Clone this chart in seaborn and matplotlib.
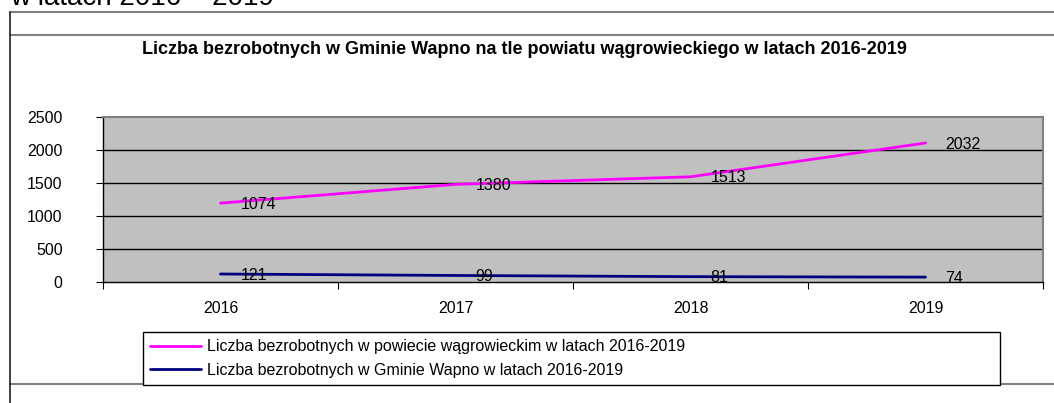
import matplotlib
matplotlib.use("Agg")
import matplotlib.pyplot as plt
from matplotlib.lines import Line2D
import seaborn as sns
import pandas as pd


# Dane z wykresu
lata = ["2016", "2017", "2018", "2019"]
powiat = [1074, 1380, 1513, 2032]
gmina = [121, 99, 81, 74]
etykiety = [
    "Liczba bezrobotnych w powiecie wągrowieckim w latach 2016-2019",
    "Liczba bezrobotnych w Gminie Wapno w latach 2016-2019",
]
tytul = "Liczba bezrobotnych w Gminie Wapno na tle powiatu wągrowieckiego w latach 2016-2019"
kolory = ["#FF00FF", "#000080"]

sns.set_style("white")
plt.rcParams["font.family"] = ["Liberation Sans", "DejaVu Sans"]
plt.rcParams["text.color"] = "black"
plt.rcParams["xtick.color"] = "black"
plt.rcParams["ytick.color"] = "black"

W, H = 1054, 403
fig = plt.figure(figsize=(W / 100, H / 100), dpi=100)


def fx(px):
    return px / W


def fy(py):
    return 1 - py / H


# Ramka dokumentu
fig.text(fx(10), fy(5), "w latach 2016 – 2019", fontsize=20, va="baseline", ha="left")
for y in (12, 35, 384):
    fig.add_artist(Line2D([fx(10), 1], [fy(y), fy(y)], color="#808080", lw=1.5))
fig.add_artist(Line2D([fx(10), fx(10)], [fy(12), 0], color="#202020", lw=1.2))
fig.text(fx(524), fy(49), tytul, fontsize=13, fontweight="bold", ha="center", va="center")

# Wykres liniowy skumulowany (jak w Excelu)
df = pd.DataFrame({
    "rok": lata * 2,
    "wartosc": [g + p for g, p in zip(gmina, powiat)] + gmina,
    "etykieta": powiat + gmina,
    "seria": [etykiety[0]] * 4 + [etykiety[1]] * 4,
})

ax = fig.add_axes([fx(103), fy(282), fx(1043 - 103), (282 - 117) / H])
ax.set_facecolor("#C0C0C0")
sns.lineplot(data=df, x="rok", y="wartosc", hue="seria", palette=kolory,
             linewidth=2, legend=False, sort=False, ax=ax)

for _, r in df.iterrows():
    ax.annotate(str(r["etykieta"]), (lata.index(r["rok"]), r["wartosc"]),
                xytext=(20, -1), textcoords="offset pixels",
                ha="left", va="center", fontsize=11.5, color="black")

ax.set_xlim(-0.5, 3.5)
ax.set_ylim(0, 2500)
ax.set_yticks(range(0, 2501, 500))
ax.set_xticks([-0.5, 0.5, 1.5, 2.5, 3.5])
ax.set_xticklabels([])
ax.set_xticks(range(4), minor=True)
ax.set_xticklabels(lata, minor=True, fontsize=11.5)
ax.tick_params(axis="x", which="major", direction="out", length=5, color="black", bottom=True)
ax.tick_params(axis="x", which="minor", length=0, pad=14)
ax.tick_params(axis="y", direction="out", length=5, color="black", left=True, pad=24, labelsize=11.5)
ax.set_xlabel("")
ax.set_ylabel("")
ax.grid(False)
for v in range(500, 2500, 500):
    ax.axhline(v, color="black", lw=1, zorder=1)
for s in ("top", "right"):
    ax.spines[s].set_color("#808080")
    ax.spines[s].set_linewidth(1.5)
for s in ("left", "bottom"):
    ax.spines[s].set_color("black")
    ax.spines[s].set_linewidth(1)

# Legenda
uchwyty = [Line2D([0], [0], color=c, lw=2) for c in kolory]
leg = fig.legend(uchwyty, etykiety, loc="upper left",
                 bbox_to_anchor=(fx(143), fy(332) - 0.01, fx(1000 - 143), 0.01),
                 mode="expand", borderaxespad=0, fontsize=11.5,
                 handlelength=3.2, handletextpad=0.35, labelspacing=0.55,
                 borderpad=0.45, fancybox=False, framealpha=1)
leg.get_frame().set_edgecolor("black")
leg.get_frame().set_linewidth(1)

fig.savefig("out.png", dpi=100)
